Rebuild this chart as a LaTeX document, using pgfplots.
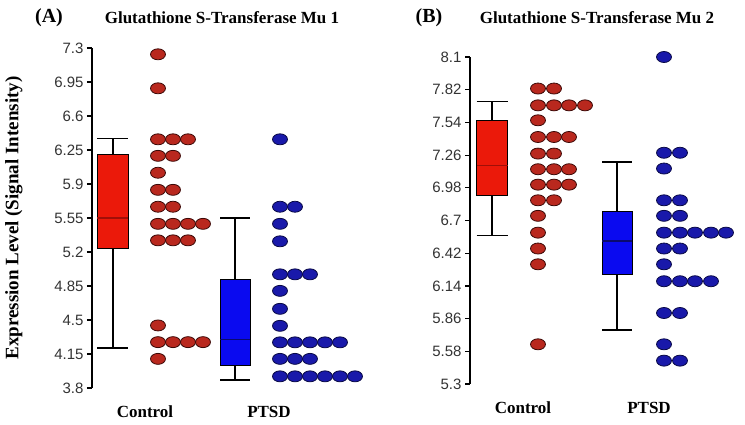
\documentclass[border=0pt]{standalone}
\usepackage{pgfplots}
\pgfplotsset{compat=1.18}
\usepackage{fontspec}
\setmainfont{Liberation Serif}
\newfontfamily\arial{Liberation Sans}
\definecolor{boxred}{RGB}{235,25,10}
\definecolor{medred}{RGB}{160,15,8}
\definecolor{dotred}{RGB}{185,40,30}
\definecolor{dotredline}{RGB}{60,10,8}
\definecolor{boxblue}{RGB}{10,10,240}
\definecolor{medblue}{RGB}{10,10,110}
\definecolor{dotblue}{RGB}{25,25,170}
\definecolor{dotblueline}{RGB}{10,10,70}
\pgfplotsset{
 gst/.style={
  scale only axis, anchor=south west, clip=false,
  axis y line*=left, axis x line*=bottom,
  x axis line style={draw=none},
  y axis line style={line width=1.8pt, -},
  xtick style={draw=none},
  ytick style={line width=1.2pt, black},
  tick align=outside, major tick length=5pt,
  yticklabel style={font=\arial\fontsize{15}{15}\selectfont, text=black!80},
  xticklabel style={font=\bfseries\fontsize{17}{17}\selectfont, anchor=base, yshift=-24pt},
 },
 reddots/.style={only marks, mark=*, mark size=5.5pt,
   mark options={xscale=1.36, fill=dotred, draw=dotredline, line width=0.8pt}},
 bluedots/.style={only marks, mark=*, mark size=5.5pt,
   mark options={xscale=1.36, fill=dotblue, draw=dotblueline, line width=0.8pt}},
 whisk/.style={black, line width=1.6pt, mark=none},
}
\begin{document}
\begin{tikzpicture}
\path[use as bounding box] (0,0) rectangle (745pt,424pt);
\node[font=\bfseries\fontsize{20}{20}\selectfont] at (49pt,406pt) {(A)};
\node[font=\bfseries\fontsize{17}{17}\selectfont] at (222pt,406pt) {Glutathione S-Transferase Mu 1};
\node[font=\bfseries\fontsize{20}{20}\selectfont] at (429pt,406pt) {(B)};
\node[font=\bfseries\fontsize{17}{17}\selectfont] at (597pt,406pt) {Glutathione S-Transferase Mu 2};
% Panel A
\begin{axis}[gst, at={(92pt,36pt)}, width=280pt, height=340pt,
  xmin=0, xmax=280, ymin=3.8, ymax=7.3,
  ytick={3.8,4.15,4.5,4.85,5.2,5.55,5.9,6.25,6.6,6.95,7.3},
  yticklabels={3.8,4.15,4.5,4.85,5.2,5.55,5.9,6.25,6.6,6.95,7.3},
  xtick={53,177}, xticklabels={Control,PTSD},
  ylabel={Expression Level (Signal Intensity)},
  every axis y label/.style={at={(rel axis cs:-0.279,0.5)}, rotate=90, anchor=center,
    font=\bfseries\fontsize{19}{19}\selectfont}]
% Control box: whiskers 4.21 / 6.37, quartiles 5.24 / 6.20, median 5.55
\addplot[whisk] coordinates {(21,4.21)(21,6.37)};
\addplot[whisk] coordinates {(5.5,6.37)(36.5,6.37)};
\addplot[whisk] coordinates {(5.5,4.21)(36.5,4.21)};
\addplot[fill=boxred, draw=black, line width=1pt] coordinates {(5.5,5.24)(36.5,5.24)(36.5,6.20)(5.5,6.20)} -- cycle;
\addplot[medred, line width=1.2pt] coordinates {(5.5,5.55)(36.5,5.55)};
% PTSD box: whiskers 3.88 / 5.55, quartiles 4.03 / 4.92, median 4.30
\addplot[whisk] coordinates {(143,3.88)(143,5.55)};
\addplot[whisk] coordinates {(128,5.55)(158,5.55)};
\addplot[whisk] coordinates {(128,3.88)(158,3.88)};
\addplot[fill=boxblue, draw=black, line width=1pt] coordinates {(128,4.03)(158,4.03)(158,4.92)(128,4.92)} -- cycle;
\addplot[medblue, line width=1.2pt] coordinates {(128,4.30)(158,4.30)};
\addplot[reddots] coordinates {
(66,7.235)
(66,6.885)
(66,6.36)(81,6.36)(96,6.36)
(66,6.19)(81,6.19)
(66,6.016)
(66,5.84)(81,5.84)
(66,5.666)(81,5.666)
(66,5.49)(81,5.49)(96,5.49)(111,5.49)
(66,5.32)(81,5.32)(96,5.32)
(66,4.444)
(66,4.272)(81,4.272)(96,4.272)(111,4.272)
(66,4.10)
};
\addplot[bluedots] coordinates {
(188,6.36)
(188,5.666)(203,5.666)
(188,5.49)
(188,5.31)
(188,4.97)(203,4.97)(218,4.97)
(188,4.80)
(188,4.615)
(188,4.44)
(188,4.27)(203,4.27)(218,4.27)(233,4.27)(248,4.27)
(188,4.10)(203,4.10)(218,4.10)
(188,3.92)(203,3.92)(218,3.92)(233,3.92)(248,3.92)(263,3.92)
};
\end{axis}
% Panel B
\begin{axis}[gst, at={(470pt,40pt)}, width=275pt, height=327pt,
  xmin=0, xmax=275, ymin=5.3, ymax=8.1,
  ytick={5.3,5.58,5.86,6.14,6.42,6.7,6.98,7.26,7.54,7.82,8.1},
  yticklabels={5.3,5.58,5.86,6.14,6.42,6.7,6.98,7.26,7.54,7.82,8.1},
  xtick={53,179}, xticklabels={Control,PTSD}]
% Control box: whiskers 6.57 / 7.72, quartiles 6.91 / 7.56, median 7.17
\addplot[whisk] coordinates {(22,6.57)(22,7.72)};
\addplot[whisk] coordinates {(6.5,7.72)(37.5,7.72)};
\addplot[whisk] coordinates {(6.5,6.57)(37.5,6.57)};
\addplot[fill=boxred, draw=black, line width=1pt] coordinates {(6.5,6.91)(37.5,6.91)(37.5,7.56)(6.5,7.56)} -- cycle;
\addplot[medred, line width=1.2pt] coordinates {(6.5,7.17)(37.5,7.17)};
% PTSD box: whiskers 5.76 / 7.20, quartiles 6.24 / 6.78, median 6.525
\addplot[whisk] coordinates {(147,5.76)(147,7.20)};
\addplot[whisk] coordinates {(132,7.20)(162,7.20)};
\addplot[whisk] coordinates {(132,5.76)(162,5.76)};
\addplot[fill=boxblue, draw=black, line width=1pt] coordinates {(132,6.24)(162,6.24)(162,6.78)(132,6.78)} -- cycle;
\addplot[medblue, line width=1.2pt] coordinates {(132,6.525)(162,6.525)};
\addplot[reddots] coordinates {
(68,7.83)(84,7.83)
(68,7.686)(84,7.686)(99,7.686)(115,7.686)
(68,7.558)
(68,7.415)(84,7.415)(99,7.415)
(68,7.273)(84,7.273)
(68,7.139)(84,7.139)(99,7.139)
(68,7.007)(84,7.007)(99,7.007)
(68,6.873)(84,6.873)
(68,6.74)
(68,6.596)
(68,6.46)
(68,6.325)
(68,5.64)
};
\addplot[bluedots] coordinates {
(194,8.1)
(194,7.28)(210,7.28)
(194,7.145)
(194,6.873)(210,6.873)
(194,6.74)(210,6.74)
(194,6.596)(210,6.596)(225,6.596)(241,6.596)(256,6.596)
(194,6.46)(210,6.46)
(194,6.325)
(194,6.18)(210,6.18)(225,6.18)(241,6.18)
(194,5.908)(210,5.908)
(194,5.64)
(194,5.50)(210,5.50)
};
\end{axis}
\end{tikzpicture}
\end{document}
